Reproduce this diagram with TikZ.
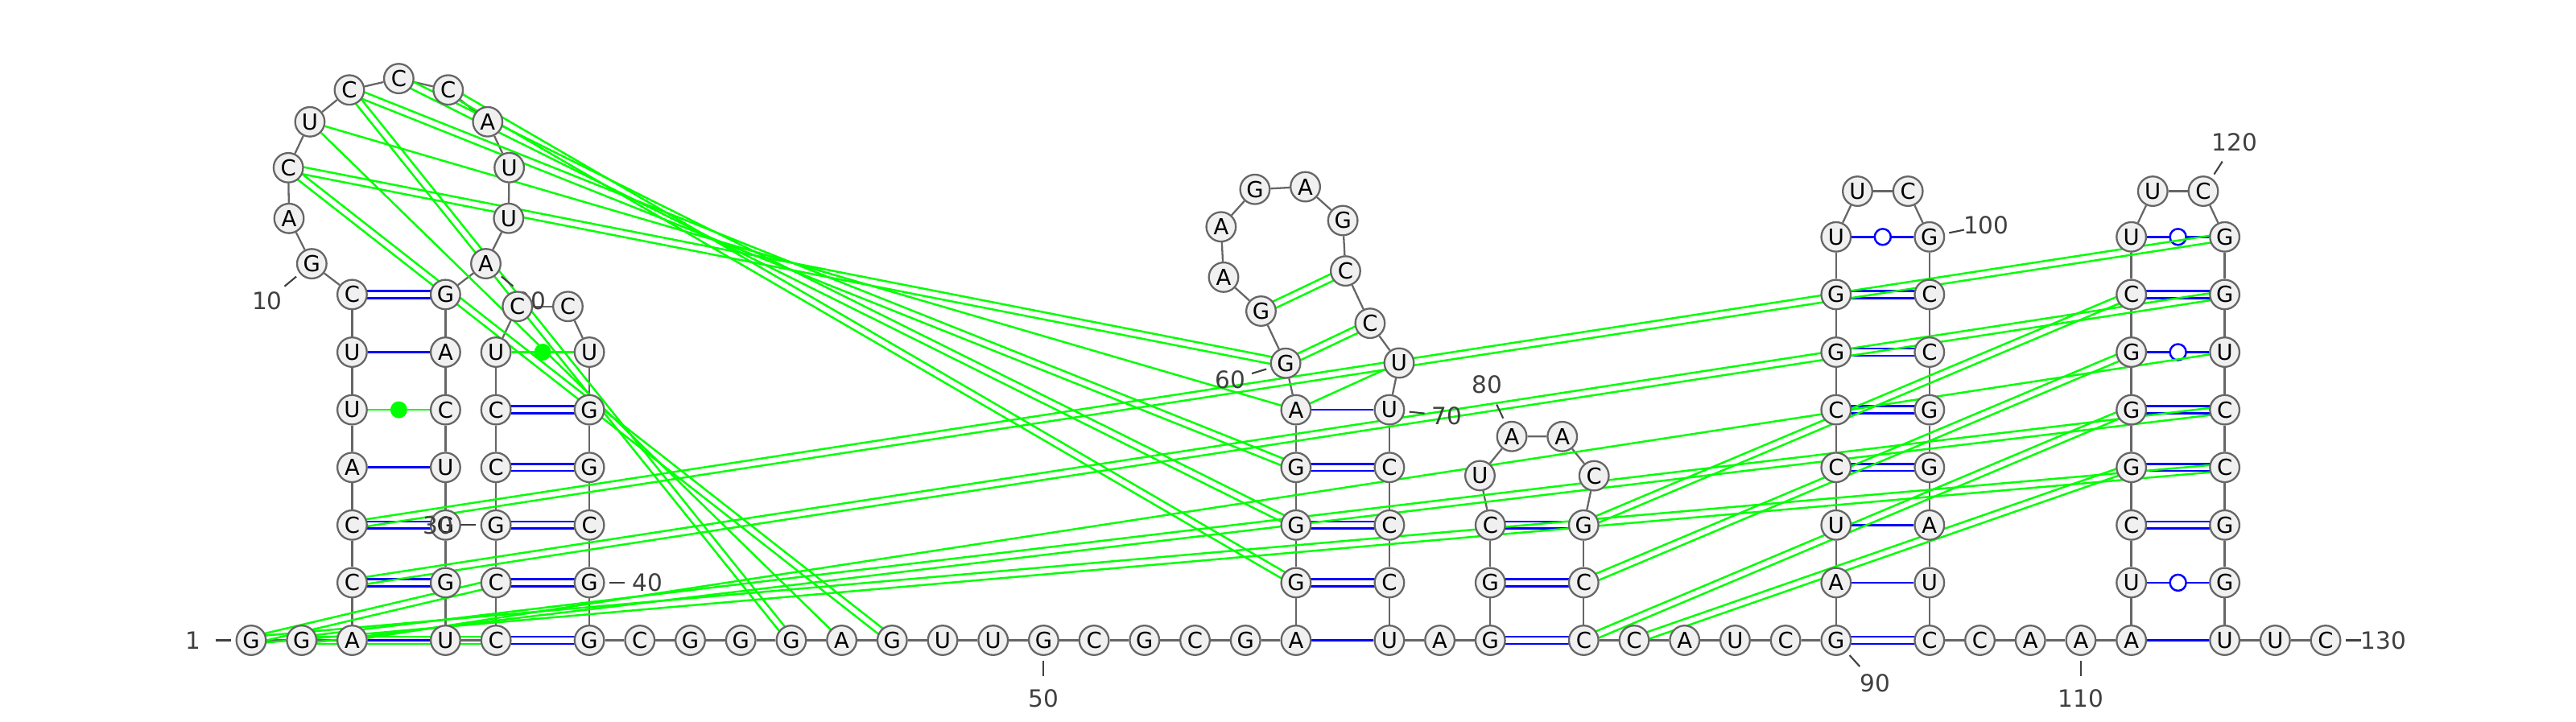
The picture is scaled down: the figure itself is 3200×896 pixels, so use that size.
\documentclass[tikz,border=0pt]{standalone}
\usepackage{fontspec}
\setmainfont{DejaVu Sans}
\usetikzlibrary{calc}
\definecolor{ntline}{HTML}{666666}
\definecolor{ntfill}{HTML}{F0F0F0}
\definecolor{numcol}{HTML}{404040}
\definecolor{pkgreen}{HTML}{00FF00}
\pgfdeclarelayer{back}
\pgfdeclarelayer{mid}
\pgfdeclarelayer{front}
\pgfsetlayers{back,mid,main,front}
\tikzset{
	nt/.style={circle,draw=ntline,fill=ntfill,line width=0.65pt,minimum size=0.366cm,inner sep=0pt,font=\fontsize{7.8}{8}\selectfont},
	bb/.style={ntline,line width=0.65pt},
	wc/.style={blue,line width=0.7pt},
	alt/.style={pkgreen,line width=0.7pt},
	num/.style={text=numcol,inner sep=0pt,font=\fontsize{8.4}{9}\selectfont},
	numtick/.style={numcol,line width=0.6pt}
}
\newcommand\twin[3]{%
	\draw[#1] ($(#2)!0.044cm!90:(#3)$) -- ($(#3)!0.044cm!-90:(#2)$);
	\draw[#1] ($(#2)!0.044cm!-90:(#3)$) -- ($(#3)!0.044cm!90:(#2)$);}
\newcommand\numlab[3]{%
	\draw[numtick] ($(n#1)+({25*(#2)},{25*(#3)})$) -- ($(n#1)+({44*(#2)},{44*(#3)})$);
	\node[num] (lab#1) at ($(n#1)+({72*(#2)},{72*(#3)})$) {#1};}
\begin{document}
\begin{tikzpicture}[x=0.01cm,y=-0.01cm]
	\useasboundingbox (0,0) rectangle (3200,896);
	\foreach \b/\i/\x in {G/1/312,G/2/374.7}
		\node[nt] (n\i) at (\x,795.5) {\b};
	\foreach \b [count=\i from 3] in {A,C,C,A,U,U,C}
		\node[nt] (n\i) at (437.4,{795.5-71.6*(\i-3)}) {\b};
	\foreach \b [count=\i from 10] in {G,A,C,U,C,C,C,A,U,U,A}
		\node[nt] (n\i) at ($(495.4,238)+({114.4+25.93*(\i-9)}:140.4)$) {\b};
	\foreach \b [count=\i from 21] in {G,A,C,U,G,G,U}
		\node[nt] (n\i) at (553.4,{795.5-71.6*(27-\i)}) {\b};
	\foreach \b [count=\i from 28] in {C,C,G,C,C,U}
		\node[nt] (n\i) at (616.1,{795.5-71.6*(\i-28)}) {\b};
	\node[nt] (n34) at (642.75,380.75) {C};
	\node[nt] (n35) at (705.45,380.75) {C};
	\foreach \b [count=\i from 36] in {U,G,G,C,G,G}
		\node[nt] (n\i) at (732.1,{795.5-71.6*(41-\i)}) {\b};
	\foreach \b [count=\i from 42] in {C,G,G,G,A,G,U,U,G,C,G,C,G}
		\node[nt] (n\i) at ({732.1+62.7*(\i-41)},795.5) {\b};
	\foreach \b [count=\i from 55] in {A,G,G,G,A}
		\node[nt] (n\i) at (1609.9,{795.5-71.6*(\i-55)}) {\b};
	\node[nt] (n60) at (1597.1,451.25) {G};
	\foreach \b [count=\i from 61] in {G,A,A,G,A,G,C}
		\node[nt] (n\i) at ($(1594.1,309.3)+({109.7+44.96*(\i-61)}:82)$) {\b};
	\node[nt] (n68) at (1701.9,401.65) {C};
	\node[nt] (n69) at (1738,451) {U};
	\foreach \b [count=\i from 70] in {U,C,C,C,U}
		\node[nt] (n\i) at (1725.9,{795.5-71.6*(74-\i)}) {\b};
	\node[nt] (n75) at (1788.6,795.5) {A};
	\foreach \b [count=\i from 76] in {G,G,C}
		\node[nt] (n\i) at (1851.3,{795.5-71.6*(\i-76)}) {\b};
	\foreach \b [count=\i from 79] in {U,A,A,C}
		\node[nt] (n\i) at ($(1909.3,608.1)+({142.7+50.95*(\i-78)}:72.9)$) {\b};
	\foreach \b [count=\i from 83] in {G,C,C}
		\node[nt] (n\i) at (1967.3,{795.5-71.6*(85-\i)}) {\b};
	\foreach \b [count=\i from 86] in {C,A,U,C}
		\node[nt] (n\i) at ({1967.3+62.7*(\i-85)},795.5) {\b};
	\foreach \b [count=\i from 90] in {G,A,U,C,C,G,G,U}
		\node[nt] (n\i) at (2280.8,{795.5-71.6*(\i-90)}) {\b};
	\node[nt] (n98) at (2307.45,237.55) {U};
	\node[nt] (n99) at (2370.15,237.55) {C};
	\foreach \b [count=\i from 100] in {G,C,C,G,G,A,U,C}
		\node[nt] (n\i) at (2396.8,{795.5-71.6*(107-\i)}) {\b};
	\foreach \b [count=\i from 108] in {C,A,A}
		\node[nt] (n\i) at ({2396.8+62.7*(\i-107)},795.5) {\b};
	\foreach \b [count=\i from 111] in {A,U,C,G,G,G,C,U}
		\node[nt] (n\i) at (2647.6,{795.5-71.6*(\i-111)}) {\b};
	\node[nt] (n119) at (2674.25,237.55) {U};
	\node[nt] (n120) at (2736.95,237.55) {C};
	\foreach \b [count=\i from 121] in {G,G,U,C,C,G,G,U}
		\node[nt] (n\i) at (2763.6,{795.5-71.6*(128-\i)}) {\b};
	\node[nt] (n129) at (2826.3,795.5) {U};
	\node[nt] (n130) at (2889,795.5) {C};
	\begin{pgfonlayer}{back}
		\foreach \i [remember=\i as \j (initially 1)] in {2,...,130}
			\draw[bb] (n\j) -- (n\i);
		\foreach \a/\b in {4/26,5/25,9/21,28/41,29/40,30/39,31/38,32/37,56/73,57/72,58/71,76/85,77/84,78/83,90/107,93/104,94/103,95/102,96/101,113/126,114/125,115/124,117/122}
			\twin{wc}{n\a}{n\b};
		\foreach \a/\b in {3/27,6/24,8/22,55/74,59/70,91/106,92/105,111/128}
			\draw[wc] (n\a) -- (n\b);
		\foreach \a/\b in {97/100,112/127,116/123,118/121} {
			\draw[wc] (n\a) -- (n\b);
			\draw[wc,fill=white] ($(n\a)!0.5!(n\b)$) circle (0.1cm);
		}
		\foreach \a/\b in {7/23,33/36} {
			\draw[alt] (n\a) -- (n\b);
			\fill[pkgreen] ($(n\a)!0.5!(n\b)$) circle (0.105cm);
		}
		\foreach \a/\b in {1/29,2/28,1/125,2/124,4/122,5/121,12/60,14/58,15/57,16/56,12/47,14/45,60/68,61/67,83/117,84/116,85/115,86/114}
			\twin{alt}{n\a}{n\b};
		\foreach \a/\b in {3/123,13/59,13/46,59/69}
			\draw[alt] (n\a) -- (n\b);
	\end{pgfonlayer}
	\begin{pgfonlayer}{mid}
		\numlab{1}{-1}{0}
		\numlab{10}{-0.77}{0.638}
		\numlab{20}{0.771}{0.637}
		\numlab{40}{1}{0}
		\numlab{50}{0}{1}
		\numlab{60}{-0.955}{0.29}
		\numlab{70}{0.99}{0.1}
		\numlab{80}{-0.429}{-0.903}
		\numlab{90}{0.67}{0.74}
		\numlab{100}{0.98}{-0.2}
		\numlab{110}{0}{1}
		\numlab{120}{0.54}{-0.84}
		\numlab{130}{1}{0}
	\end{pgfonlayer}
	\begin{pgfonlayer}{front}
		\numlab{30}{-1}{0}
	\end{pgfonlayer}
\end{tikzpicture}
\end{document}
